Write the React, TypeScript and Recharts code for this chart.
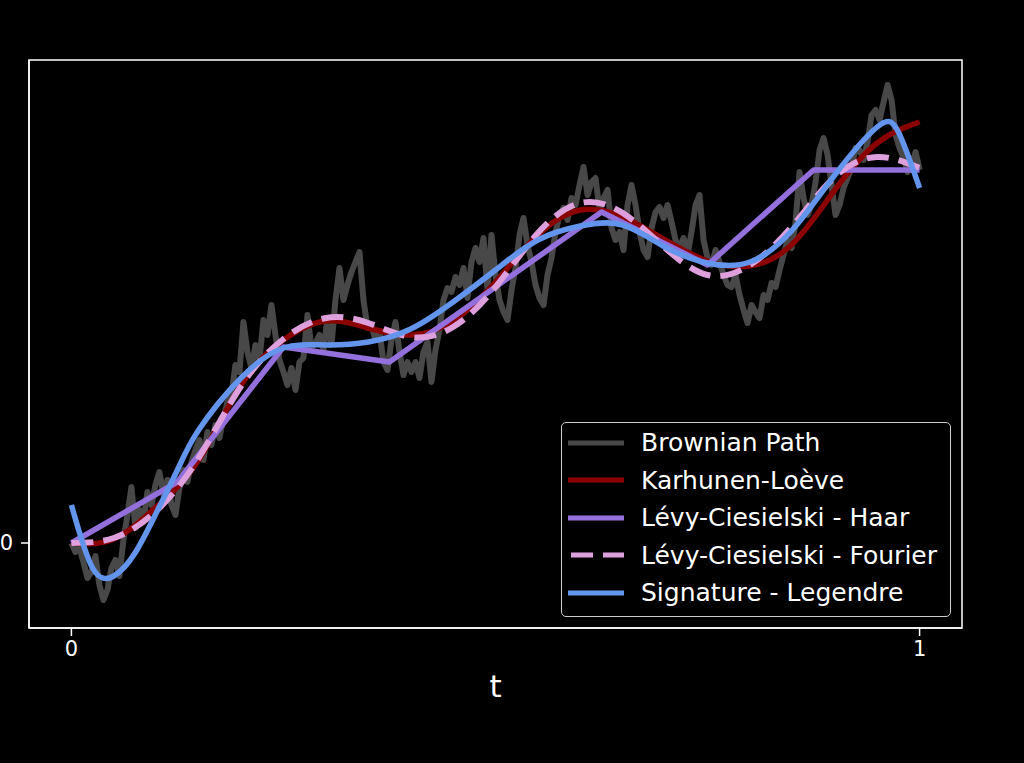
import { LineChart, Line, XAxis, YAxis, ReferenceArea } from "recharts"

// Brownian path sampled on a uniform grid over t in [0, 1]
const brownianY = [
  0.0, -0.09, -0.05, -0.19, -0.35, -0.29, -0.13, -0.42, -0.57, -0.47,
  -0.25, -0.17, -0.33, 0.03, 0.28, 0.56, 0.15, 0.33, 0.21, 0.51,
  0.38, 0.58, 0.71, 0.48, 0.63, 0.38, 0.28, 0.55, 0.73, 0.61,
  0.81, 0.93, 1.03, 0.83, 1.11, 0.98, 1.18, 1.05, 1.25, 1.41,
  1.48,
  1.78, 1.71, 2.21, 1.91, 1.75, 1.98, 1.83, 2.23, 2.08, 2.38,
  2.08, 1.83, 1.71, 1.58, 1.75, 1.53, 1.81, 1.85, 2.28, 1.95,
  2.0, 2.08, 1.93, 2.25, 1.98, 2.43, 2.75, 2.43, 2.58, 2.71,
  2.81, 2.91, 2.43, 2.15, 2.18, 2.03, 2.11, 1.81, 1.73, 2.03,
  2.21, 1.91, 1.68, 1.81, 1.71,
  1.81, 1.65, 1.91, 2.01, 1.61, 1.93, 2.13, 2.43, 2.55, 2.51,
  2.66, 2.58, 2.75, 2.45, 2.81, 2.95, 2.81, 3.05, 2.53, 3.08,
  2.68, 2.43, 2.31, 2.23, 2.53, 2.75, 3.08, 3.25, 2.98, 2.81,
  2.58, 2.45, 2.38, 2.68, 2.85, 3.11, 3.28, 3.35, 3.23, 3.45,
  3.38, 3.58, 3.76, 3.48, 3.61,
  3.65, 3.33, 3.45, 3.53, 3.15, 3.03, 3.11, 2.93, 3.38, 3.58,
  3.38, 3.11, 2.93, 2.86, 3.15, 3.31, 3.36, 3.25, 3.38, 3.21,
  3.03, 2.95, 3.05, 2.88, 3.11, 3.38, 3.48, 3.03, 2.85, 2.78,
  2.93, 2.81, 2.68, 2.58, 2.56, 2.68, 2.48, 2.33, 2.2, 2.38,
  2.31, 2.25, 2.48, 2.43, 2.6,
  2.56, 2.73, 2.88, 3.03, 2.95, 3.21, 3.71, 3.45, 3.28, 3.38,
  3.61, 3.93, 4.05, 3.88, 3.58, 3.28, 3.38, 3.55, 3.65, 3.75,
  3.95, 3.93, 3.83, 4.01, 4.28, 4.33, 4.23, 4.41, 4.58, 4.43,
  4.08, 3.95, 3.85, 3.71, 3.78, 3.91, 3.73,
]

const gridT = [0, 0.05, 0.1, 0.15, 0.2, 0.25, 0.3, 0.35, 0.4, 0.45, 0.5, 0.55, 0.6, 0.65, 0.7, 0.75, 0.8, 0.85, 0.9, 0.95, 1]
const klY = [0, 0.04, 0.36, 0.83, 1.58, 2.03, 2.22, 2.15, 2.08, 2.22, 2.61, 3.08, 3.33, 3.26, 3.03, 2.82, 2.77, 2.99, 3.53, 4.0, 4.21]
const fourierY = [0, 0.05, 0.32, 0.85, 1.57, 2.04, 2.25, 2.2, 2.06, 2.16, 2.56, 3.1, 3.4, 3.3, 2.95, 2.68, 2.78, 3.17, 3.66, 3.86, 3.75]

const haarT = [0, 0.125, 0.25, 0.375, 0.5, 0.625, 0.75, 0.875, 1]
const haarY = [0, 0.61, 1.96, 1.81, 2.56, 3.31, 2.78, 3.73, 3.73]

const legendreT = [0, 0.025, 0.05, 0.075, 0.1, 0.125, 0.15, 0.2, 0.25, 0.3, 0.35, 0.4, 0.45, 0.5, 0.55, 0.6, 0.65, 0.7, 0.75, 0.8, 0.85, 0.9, 0.95, 0.975, 1]
const legendreY = [0.38, -0.25, -0.33, -0.1, 0.3, 0.73, 1.13, 1.65, 1.95, 1.98, 2.01, 2.14, 2.41, 2.73, 3.03, 3.17, 3.18, 2.96, 2.8, 2.81, 3.13, 3.68, 4.16, 4.11, 3.55]

const xTicks = [0, 1]
const yTicks = [0]
const xDomain = [-0.05, 1.05]
const yDomain = [-0.85, 4.83]

const toPoints = (ts: number[], ys: number[]) => ts.map((t, i) => ({ t, y: ys[i] }))

const brownianData = brownianY.map((y, i) => ({ t: i / (brownianY.length - 1), y }))

const series = [
  { name: "Brownian Path", data: brownianData, color: "#484848", width: 6, dash: undefined, type: "linear" },
  { name: "Karhunen-Loève", data: toPoints(gridT, klY), color: "#8b0000", width: 5.5, dash: undefined, type: "natural" },
  { name: "Lévy-Ciesielski - Haar", data: toPoints(haarT, haarY), color: "#9370db", width: 5.5, dash: undefined, type: "linear" },
  { name: "Lévy-Ciesielski - Fourier", data: toPoints(gridT, fourierY), color: "#dda0dd", width: 6, dash: "22 10", type: "natural" },
  { name: "Signature - Legendre", data: toPoints(legendreT, legendreY), color: "#6495ed", width: 5.5, dash: undefined, type: "natural" },
]

const tickStyle = { fill: "#ffffff", fontSize: 21, fontFamily: "DejaVu Sans" }

function LegendBox() {
  return (
    <div
      style={{
        position: "absolute",
        left: 561,
        top: 422,
        width: 390,
        height: 195,
        boxSizing: "border-box",
        border: "1.5px solid #cccccc",
        borderRadius: 5,
        background: "rgba(0,0,0,0.8)",
        paddingTop: 1,
        paddingLeft: 6,
      }}
    >
      {series.map((s) => (
        <div key={s.name} style={{ display: "flex", alignItems: "center", height: 37.5 }}>
          <svg width={56} height={8} style={{ marginRight: 17 }}>
            <line x1={s.dash ? 3 : 0} y1={4} x2={56} y2={4} stroke={s.color} strokeWidth={5} strokeDasharray={s.dash} />
          </svg>
          <span style={{ color: "#ffffff", fontSize: 25, fontFamily: "DejaVu Sans", whiteSpace: "nowrap" }}>{s.name}</span>
        </div>
      ))}
    </div>
  )
}

export default function App() {
  return (
    <div style={{ position: "absolute", left: 0, top: 0, width: 1024, height: 763, background: "#000000", fontFamily: "DejaVu Sans" }}>
      <LineChart width={1024} height={763} margin={{ top: 60, right: 62, bottom: 0, left: 0 }}>
        <XAxis
          dataKey="t"
          type="number"
          domain={xDomain}
          ticks={xTicks}
          allowDuplicatedCategory={false}
          height={135}
          tickSize={8}
          tickMargin={5}
          fontSize={21}
          tick={tickStyle}
          stroke="#ffffff"
          strokeWidth={1.5}
          label={{ value: "t", position: "insideTop", dy: 42, fill: "#ffffff", fontSize: 31, fontFamily: "DejaVu Sans" }}
        />
        <YAxis
          type="number"
          domain={yDomain}
          ticks={yTicks}
          width={29}
          tickSize={8}
          tickMargin={8}
          fontSize={21}
          tick={tickStyle}
          stroke="#ffffff"
          strokeWidth={1.5}
        />
        {series.map((s) => (
          <Line
            key={s.name}
            data={s.data}
            dataKey="y"
            name={s.name}
            type={s.type as any}
            stroke={s.color}
            strokeWidth={s.width}
            strokeDasharray={s.dash}
            strokeLinejoin="round"
            dot={false}
            activeDot={false}
            isAnimationActive={false}
          />
        ))}
        {/* plot frame */}
        <ReferenceArea x1={xDomain[0]} x2={xDomain[1]} y1={yDomain[0]} y2={yDomain[1]} fill="none" stroke="#ffffff" strokeWidth={1.5} ifOverflow="visible" />
      </LineChart>
      <LegendBox />
    </div>
  )
}
